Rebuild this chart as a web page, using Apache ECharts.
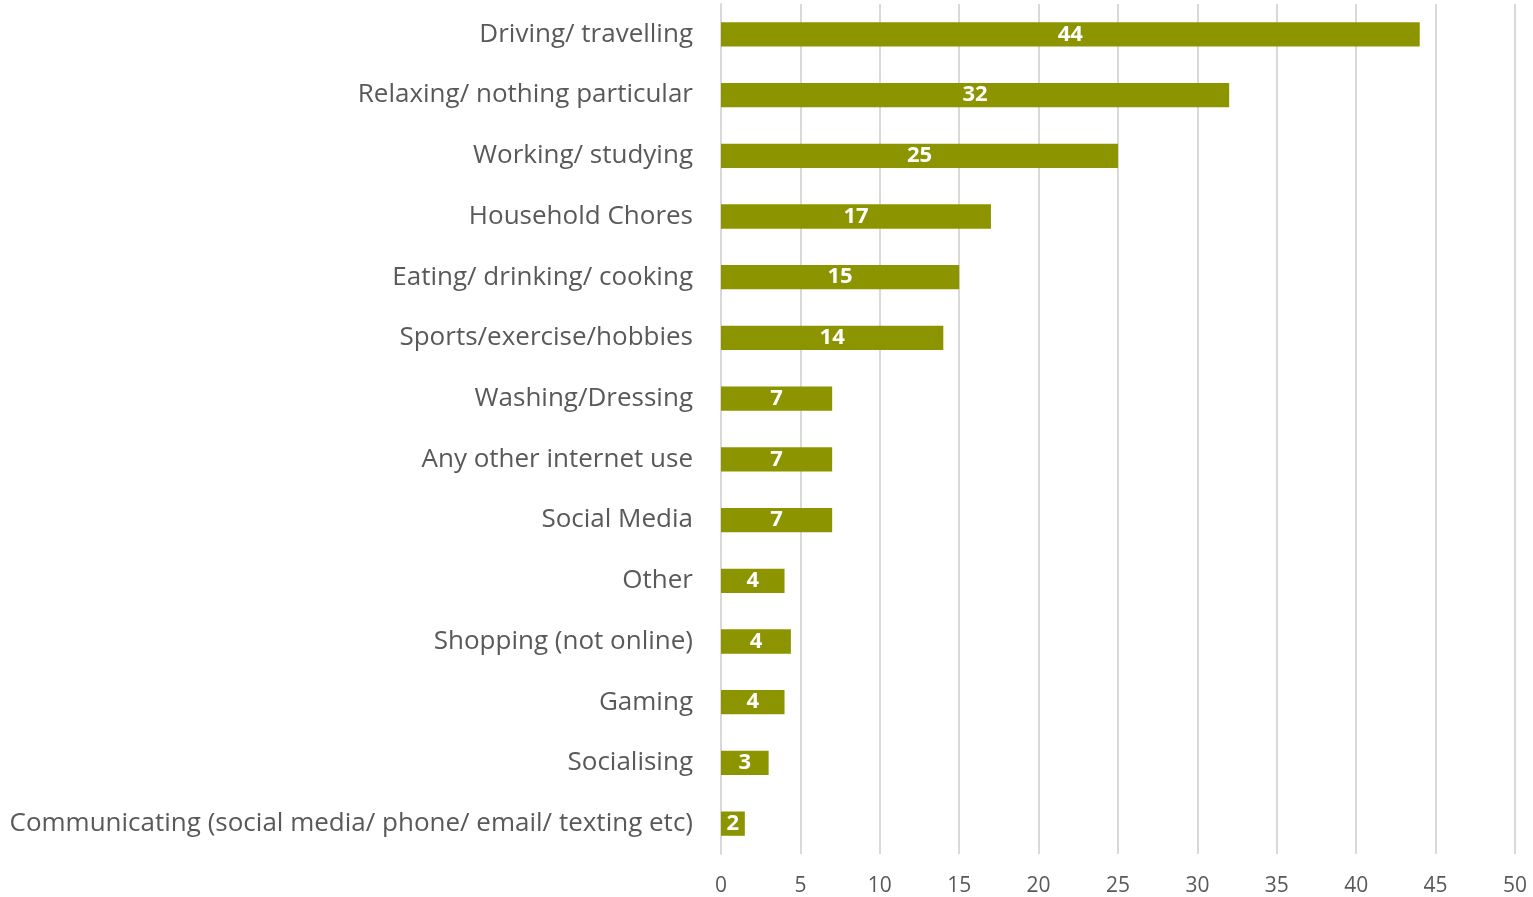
<!DOCTYPE html>
<html>
<head>
<meta charset="utf-8">
<script src="https://cdn.jsdelivr.net/npm/echarts@6/dist/echarts.min.js"></script>
<style>
  html, body { margin: 0; padding: 0; background: #ffffff; }
  #chart { width: 1533px; height: 897px; }
</style>
</head>
<body>
<div id="chart"></div>
<script>
// Activities, listed top to bottom
const categories = [
  'Driving/ travelling',
  'Relaxing/ nothing particular',
  'Working/ studying',
  'Household Chores',
  'Eating/ drinking/ cooking',
  'Sports/exercise/hobbies',
  'Washing/Dressing',
  'Any other internet use',
  'Social Media',
  'Other',
  'Shopping (not online)',
  'Gaming',
  'Socialising',
  'Communicating (social media/ phone/ email/ texting etc)'
];
const values = [44, 32, 25, 17, 15, 14, 7, 7, 7, 4, 4.4, 4, 3, 1.5];
const xTicks = [0, 5, 10, 15, 20, 25, 30, 35, 40, 45, 50];

const chart = echarts.init(document.getElementById('chart'));
chart.setOption({
  animation: false,
  grid: { left: 721, right: 18, top: 4, bottom: 43, containLabel: false },
  xAxis: {
    type: 'value',
    min: xTicks[0],
    max: xTicks[xTicks.length - 1],
    interval: xTicks[1] - xTicks[0],
    axisLine: { show: false },
    axisTick: { show: false },
    splitLine: { show: true, lineStyle: { color: '#d9d9d9', width: 2 } },
    axisLabel: { color: '#595959', fontFamily: 'Open Sans', fontSize: 21, margin: 22 }
  },
  yAxis: {
    type: 'category',
    inverse: true,
    data: categories,
    axisLine: { show: true, lineStyle: { color: '#d9d9d9', width: 2 } },
    axisTick: { show: false },
    axisLabel: {
      color: '#595959', fontFamily: 'Open Sans', fontSize: 26, margin: 28,
      padding: [3, 0, 0, 0]
    }
  },
  series: [{
    type: 'bar',
    data: values,
    barCategoryGap: '60%',
    itemStyle: { color: '#8c9400' },
    label: {
      show: true,
      position: 'inside',
      color: '#ffffff',
      fontFamily: 'Open Sans',
      fontWeight: 'bold',
      fontSize: 22,
      padding: [3, 0, 0, 0],
      formatter: p => String(Math.round(p.value))
    }
  }]
});
</script>
</body>
</html>
